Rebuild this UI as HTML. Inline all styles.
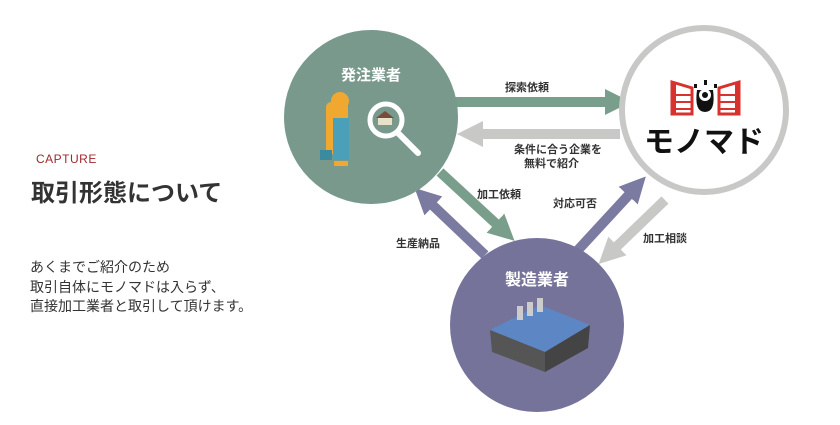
<!DOCTYPE html>
<html><head><meta charset="utf-8"><style>
body{margin:0;width:840px;height:425px;background:#fff;overflow:hidden;position:relative;font-family:"Liberation Sans","Noto Sans CJK JP",sans-serif;}
.a{position:absolute;white-space:nowrap;}
</style></head><body>
<div class="a" style="left:36px;top:152px;font-size:12px;color:#a0282e;letter-spacing:0.5px">CAPTURE</div>
<div class="a" style="left:31px;top:173px;font-size:24px;font-weight:bold;color:#333">取引形態について</div>
<div class="a" style="left:30px;top:258px;font-size:14px;line-height:19.5px;color:#333">あくまでご紹介のため<br>取引自体にモノマドは入らず、<br>直接加工業者と取引して頂けます。</div>
<svg class="a" style="left:0;top:0" width="840" height="425">
<defs>
<marker id="mg" viewBox="0 0 10 10" refX="5" refY="5" markerWidth="2.6" markerHeight="2.6" orient="auto"><path d="M0,0L10,5L0,10z" fill="#7a9e8c"/></marker>
<marker id="my" viewBox="0 0 10 10" refX="5" refY="5" markerWidth="2.6" markerHeight="2.6" orient="auto"><path d="M0,0L10,5L0,10z" fill="#c8c8c6"/></marker>
<marker id="mp" viewBox="0 0 10 10" refX="5" refY="5" markerWidth="2.6" markerHeight="2.6" orient="auto"><path d="M0,0L10,5L0,10z" fill="#7b7aa0"/></marker>
</defs>
<line x1="455" y1="102" x2="618" y2="102" stroke="#7a9e8c" stroke-width="10" marker-end="url(#mg)"/>
<line x1="620" y1="134" x2="470" y2="134" stroke="#c8c8c6" stroke-width="10" marker-end="url(#my)"/>
<line x1="440" y1="172" x2="505" y2="232" stroke="#7a9e8c" stroke-width="10" marker-end="url(#mg)"/>
<line x1="485" y1="255" x2="424" y2="197" stroke="#7b7aa0" stroke-width="10" marker-end="url(#mp)"/>
<line x1="578" y1="250" x2="637" y2="186" stroke="#7b7aa0" stroke-width="10" marker-end="url(#mp)"/>
<line x1="665" y1="200" x2="608" y2="255" stroke="#c8c8c6" stroke-width="10" marker-end="url(#my)"/>
<circle cx="371" cy="117" r="87" fill="#78998b"/>
<circle cx="704" cy="110" r="82" fill="#fff" stroke="#c8c8c6" stroke-width="6"/>
<circle cx="537" cy="325" r="87" fill="#75739a"/>
<!-- worker -->
<rect x="326" y="102" width="22" height="52" rx="5" fill="#f0a830"/>
<rect x="333" y="118" width="16" height="42" fill="#4aa0b8"/>
<circle cx="340" cy="101" r="9" fill="#f0a830"/>
<rect x="320" y="150" width="12" height="10" fill="#3a8aa0"/>
<rect x="334" y="161" width="14" height="5" fill="#f0a830"/>
<!-- magnifier -->
<line x1="398" y1="133" x2="418" y2="153" stroke="#fff" stroke-width="6" stroke-linecap="round"/>
<circle cx="386" cy="120" r="16" fill="#78998b" stroke="#fff" stroke-width="5"/>
<rect x="378" y="118" width="14" height="7" fill="#e8e0c8"/><path d="M376,118L385,111L394,118z" fill="#7a4a3a"/>
<!-- logo -->
<g fill="#d8322e"><rect x="672" y="82" width="4" height="32"/><rect x="735" y="82" width="4" height="32"/>
<path d="M672,82L692,88L692,114L672,114z" fill="none" stroke="#d8322e" stroke-width="3"/><path d="M739,82L719,88L719,114L739,114z" fill="none" stroke="#d8322e" stroke-width="3"/>
<rect x="674" y="94" width="17" height="2"/><rect x="674" y="101" width="17" height="2"/><rect x="674" y="108" width="17" height="2"/>
<rect x="720" y="94" width="17" height="2"/><rect x="720" y="101" width="17" height="2"/><rect x="720" y="108" width="17" height="2"/></g>
<path d="M697,90Q694,112 705,112Q716,112 713,90z" fill="#111"/><circle cx="705" cy="95" r="6" fill="#fff"/><circle cx="705" cy="95" r="3" fill="#111"/>
<rect x="704" y="80" width="3" height="5" fill="#111"/><rect x="694" y="84" width="3" height="4" fill="#111"/><rect x="714" y="84" width="3" height="4" fill="#111"/>
<text x="704" y="152" font-size="30" font-weight="bold" text-anchor="middle" fill="#111" font-family="Liberation Sans,Noto Sans CJK JP,sans-serif">モノマド</text>
<!-- factory -->
<path d="M490,330L540,305L590,325L545,352z" fill="#5d87c4"/>
<path d="M490,330L545,352L545,372L492,352z" fill="#555"/>
<path d="M545,352L590,325L588,348L545,372z" fill="#444"/>
<rect x="517" y="306" width="6" height="14" fill="#ccc"/><rect x="527" y="302" width="6" height="14" fill="#ccc"/><rect x="537" y="298" width="6" height="14" fill="#ccc"/>
<g font-family="Liberation Sans,Noto Sans CJK JP,sans-serif" font-weight="bold">
<text x="371" y="80" font-size="15" fill="#fff" text-anchor="middle">発注業者</text>
<text x="537" y="285" font-size="16" fill="#fff" text-anchor="middle">製造業者</text>
<g font-size="11" fill="#333">
<text x="505" y="91">探索依頼</text>
<text x="514" y="153">条件に合う企業を</text>
<text x="524" y="167">無料で紹介</text>
<text x="477" y="198">加工依頼</text>
<text x="553" y="207">対応可否</text>
<text x="396" y="247">生産納品</text>
<text x="643" y="242">加工相談</text>
</g></g>
</svg>
</body></html>
